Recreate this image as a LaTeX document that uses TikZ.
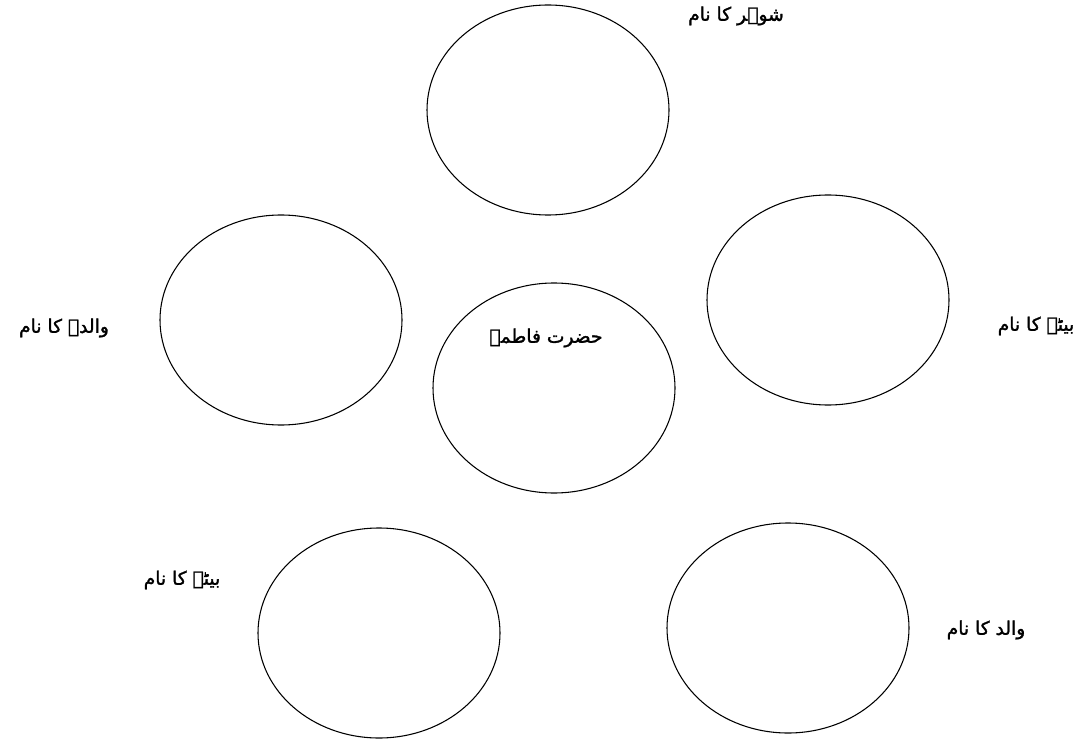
\documentclass[tikz,border=0pt]{standalone}
\usepackage{fontspec}
\usetikzlibrary{shapes.geometric}
\TeXXeTstate=1
\newfontfamily\urdufont[Script=Arabic,FakeBold=1.5]{DejaVu Sans}
\begin{document}
\begin{tikzpicture}[x=0.75pt,y=-0.75pt,
  ring/.style={draw=black,line width=0.8pt,ellipse,minimum width=181.5pt,minimum height=157.5pt,inner sep=0pt},
  lbl/.style={font=\urdufont\fontsize{14}{17}\selectfont,inner sep=0pt}]
\useasboundingbox (0,0) rectangle (1084,745);
\node[ring] (top) at (548,110) {};
\node[ring] (right) at (828,300) {};
\node[ring] (left) at (281,320) {};
\node[ring] (center) at (554,388) {};
\node[ring] (bl) at (379,633) {};
\node[ring] (br) at (788,628) {};
\node[lbl] (ttop) at (736,16) {\beginR شوہر کا نام\endR};
\node[lbl] (tright) at (1036,326) {\beginR بیٹے کا نام\endR};
\node[lbl] (tleft) at (64,328) {\beginR والدہ کا نام\endR};
\node[lbl] (tcenter) at (546,338) {\beginR حضرت فاطمہ\endR};
\node[lbl] (tbl) at (182,580) {\beginR بیٹے کا نام\endR};
\node[lbl] (tbr) at (986,630) {\beginR والد کا نام\endR};
\end{tikzpicture}
\end{document}
